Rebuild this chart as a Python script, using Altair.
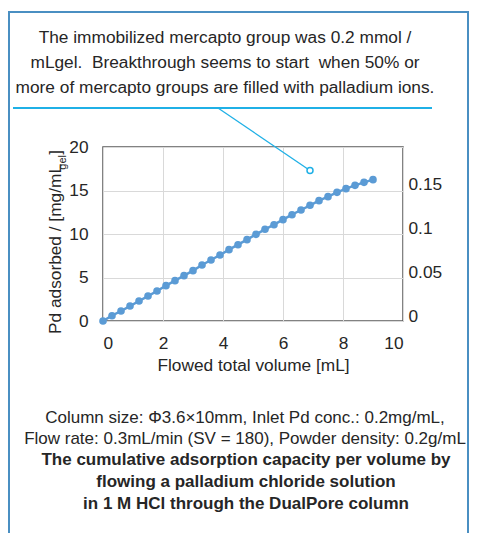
import altair as alt
import pandas as pd

# ---- data ----
volume = [0.0, 0.3, 0.6, 0.9, 1.2, 1.5, 1.8, 2.1, 2.4, 2.7, 3.0, 3.3, 3.6, 3.9, 4.2,
          4.5, 4.8, 5.1, 5.4, 5.7, 6.0, 6.3, 6.6, 6.9, 7.2, 7.5, 7.8, 8.1, 8.4, 8.7, 9.0]
pd_adsorbed = [0.0, 0.61, 1.15, 1.72, 2.30, 2.87, 3.45, 4.06, 4.64, 5.21, 5.79, 6.44,
               7.01, 7.59, 8.20, 8.77, 9.35, 9.96, 10.54, 11.07, 11.65, 12.22, 12.76,
               13.30, 13.83, 14.29, 14.79, 15.21, 15.59, 15.94, 16.25]
annot_x = [6.9]
annot_y = [17.3]
x_ticks = [0, 2, 4, 6, 8, 10]
y_ticks = [0, 5, 10, 15, 20]
right_ticks = [0, 0.05, 0.1, 0.15]

top_lines = [
    "The immobilized mercapto group was 0.2 mmol /",
    "mLgel.\u00a0 Breakthrough seems to start\u00a0 when 50% or",
    "more of mercapto groups are filled with palladium ions.",
]
cond_lines = [
    "Column size: \u03a63.6\u00d710mm, Inlet Pd conc.: 0.2mg/mL,",
    "Flow rate: 0.3mL/min (SV = 180), Powder density: 0.2g/mL",
]
bold_lines = [
    "The cumulative adsorption capacity per volume by",
    "flowing a palladium chloride solution",
    "in 1 M HCl through the DualPore column",
]
x_title = "Flowed total volume [mL]"
y_title_main = "Pd adsorbed / [mg/mL"
y_title_sub = "gel"
y_title_end = "]"

FONT = "Liberation Sans"
BLUE = "#5B9BD5"
CYAN = "#1FB0E6"
TXT = "#262626"
FS = 17.3
FSB = 17.0

df = pd.DataFrame({"vol": volume, "pd": pd_adsorbed})
ann = pd.DataFrame({"vol": annot_x, "pd": annot_y})
dummy = alt.Data(values=[{}])

xenc = alt.X("vol:Q", scale=alt.Scale(domain=[0, 10], nice=False),
             axis=alt.Axis(values=x_ticks, title=x_title, grid=True, domain=False, ticks=False,
                           labelPadding=13, titlePadding=5, labelFontSize=FS, titleFontSize=FS,
                           titleFontWeight="normal", labelColor=TXT, titleColor=TXT,
                           labelFont=FONT, titleFont=FONT, gridColor="#d9d9d9"))
yenc = alt.Y("pd:Q", scale=alt.Scale(domain=[0, 20], nice=False),
             axis=alt.Axis(values=y_ticks, title=None, grid=True, domain=False, ticks=False,
                           labelPadding=15, labelFontSize=FS, labelColor=TXT, labelFont=FONT,
                           gridColor="#d9d9d9"))

line = alt.Chart(df).mark_line(color=BLUE, strokeWidth=2.5).encode(x=xenc, y=yenc)
pts = alt.Chart(df).mark_circle(color=BLUE, size=58, opacity=1).encode(x=xenc, y=yenc)

pointer = alt.Chart(ann).mark_rule(color=CYAN, strokeWidth=1.3).encode(
    x=xenc, y=yenc, x2=alt.value(115), y2=alt.value(-39))
underline = alt.Chart(dummy).mark_rule(color=CYAN, strokeWidth=1.8).encode(
    x=alt.value(-90), x2=alt.value(329), y=alt.value(-39))
circ = alt.Chart(ann).mark_point(shape="circle", color=CYAN, fill="white", filled=False,
                                 size=36, strokeWidth=1.5, opacity=1).encode(x=xenc, y=yenc)

border = alt.Chart(dummy).mark_rect(fillOpacity=0, stroke="#4A8FC2", strokeWidth=2).encode(
    x=alt.value(-94), x2=alt.value(365), y=alt.value(-135), y2=alt.value(430))

texts = []
for txt, yy in zip(top_lines, [-104, -79, -54]):
    texts.append(alt.Chart(dummy).mark_text(text=txt, font=FONT, fontSize=FS, color=TXT,
                                            align="center", baseline="alphabetic")
                 .encode(x=alt.value(122), y=alt.value(yy)))
for txt, yy in zip(cond_lines, [276, 297]):
    texts.append(alt.Chart(dummy).mark_text(text=txt, font=FONT, fontSize=FSB, color=TXT,
                                            align="center", baseline="alphabetic")
                 .encode(x=alt.value(142), y=alt.value(yy)))
for txt, yy in zip(bold_lines, [318, 340, 362]):
    texts.append(alt.Chart(dummy).mark_text(text=txt, font=FONT, fontSize=FSB, color=TXT,
                                            fontWeight="bold", align="center",
                                            baseline="alphabetic")
                 .encode(x=alt.value(143), y=alt.value(yy)))

# rotated y title with subscript
texts.append(alt.Chart(dummy).mark_text(text=y_title_end, font=FONT, fontSize=FS, color=TXT,
                                        angle=270, align="right", baseline="alphabetic")
             .encode(x=alt.value(-42), y=alt.value(3)))
texts.append(alt.Chart(dummy).mark_text(text=y_title_sub, font=FONT, fontSize=11, color=TXT,
                                        angle=270, align="right", baseline="alphabetic")
             .encode(x=alt.value(-37), y=alt.value(8)))
texts.append(alt.Chart(dummy).mark_text(text=y_title_main, font=FONT, fontSize=FS, color=TXT,
                                        angle=270, align="right", baseline="alphabetic")
             .encode(x=alt.value(-42), y=alt.value(17)))

main = alt.layer(border, line, pts, underline, pointer, circ, *texts)

right_df = pd.DataFrame({"r": right_ticks})
right = alt.Chart(right_df).mark_point(opacity=0).encode(
    y=alt.Y("r:Q", scale=alt.Scale(domain=[-0.0057, 0.1935], nice=False, zero=False),
            axis=alt.Axis(orient="right", values=right_ticks, title=None, grid=False,
                          domain=False, ticks=False, labelPadding=5, labelFontSize=FS,
                          labelColor=TXT, labelFont=FONT, format="~g")))

chart = alt.layer(main, right).resolve_scale(y="independent").properties(
    width=300, height=174,
    padding={"left": 95, "top": 139, "right": 67, "bottom": 212},
    autosize=alt.AutoSizeParams(type="none"),
    background="white",
).configure_view(stroke="#595959", strokeWidth=1.5)

chart.save("out.html", embed_options={"renderer": "svg", "actions": False})
